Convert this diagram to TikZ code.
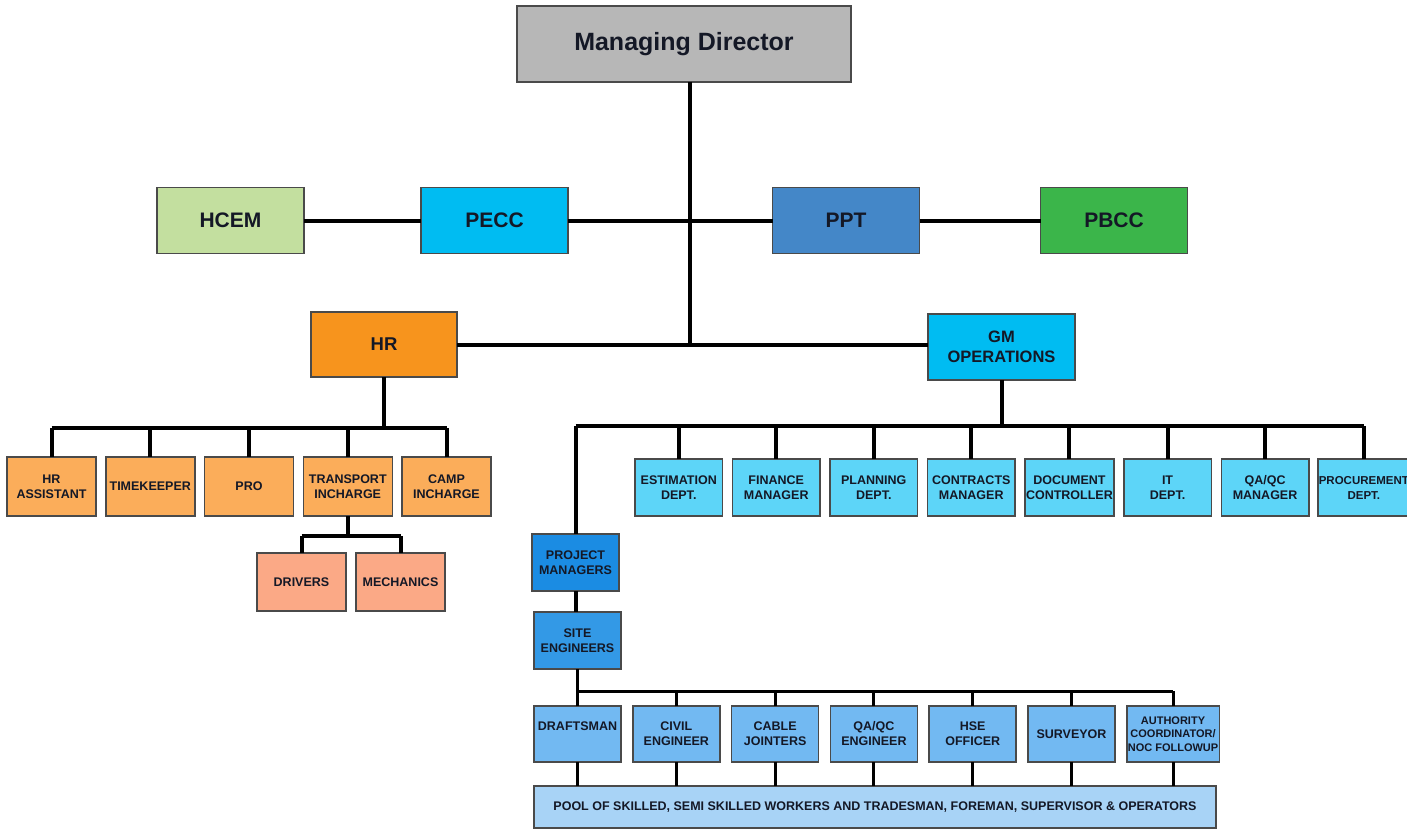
\documentclass[tikz,border=0pt]{standalone}
\usepackage{fontspec}
\setmainfont{Liberation Sans}
\usetikzlibrary{positioning}
\definecolor{mdgray}{HTML}{B7B7B7}
\definecolor{hcemgreen}{HTML}{C3DF9F}
\definecolor{cyanblue}{HTML}{00BCF2}
\definecolor{pptblue}{HTML}{4487C8}
\definecolor{pbccgreen}{HTML}{3BB54A}
\definecolor{hrorange}{HTML}{F7941D}
\definecolor{lightorange}{HTML}{FBAD5A}
\definecolor{salmon}{HTML}{FBA986}
\definecolor{lightcyan}{HTML}{5DD5F8}
\definecolor{pmblue}{HTML}{1B8CE3}
\definecolor{siteblue}{HTML}{3399E6}
\definecolor{staffblue}{HTML}{72B9F2}
\definecolor{poolblue}{HTML}{A8D3F6}
\definecolor{boxline}{HTML}{4A4A4A}
\definecolor{textdark}{HTML}{141826}
\tikzset{
  unit/.style={
    draw=boxline,
    rectangle,
    line width=1.5pt,
    outer sep=0pt,
    inner sep=1pt,
    align=center,
    text=textdark,
    minimum width=88pt,
    minimum height=57pt,
    font=\bfseries\fontsize{12.5}{15}\selectfont,
  },
  head/.style={
    unit,
    minimum width=147pt,
    minimum height=66pt,
    font=\bfseries\fontsize{21}{25}\selectfont,
  },
  hrstaff/.style={unit, fill=lightorange, minimum width=89pt, minimum height=59pt},
  fleet/.style={unit, fill=salmon, minimum width=89pt, minimum height=58pt},
  dept/.style={unit, fill=lightcyan, minimum width=87.5pt},
  sitestaff/.style={unit, fill=staffblue, minimum width=87pt, minimum height=56pt},
  link/.style={
    draw,
    black,
    line width=4pt,
  },
  thinlink/.style={
    draw,
    black,
    line width=3pt,
  },
}
\begin{document}
\begin{tikzpicture}[x=1pt,y=-1pt]
  \useasboundingbox [fill=white] (0,0) rectangle (1407,829);

  % top of the tree
  \node (md) [head, fill=mdgray, minimum width=334pt, minimum height=76pt,
    font=\bfseries\fontsize{25}{30}\selectfont] at (684,44) {Managing Director};
  \node (hcem) [head, fill=hcemgreen]  at (230.5,220.5) {HCEM};
  \node (pecc) [head, fill=cyanblue]   at (494.5,220.5) {PECC};
  \node (ppt)  [head, fill=pptblue]    at (846,220.5)   {PPT};
  \node (pbcc) [head, fill=pbccgreen]  at (1114,220.5)  {PBCC};
  \node (hr)   [head, fill=hrorange, minimum width=146pt, minimum height=65pt,
    font=\bfseries\fontsize{18.5}{22}\selectfont] at (384,344.5) {HR};
  \node (gm)   [head, fill=cyanblue,
    font=\bfseries\fontsize{16.5}{20}\selectfont] at (1001.5,347) {GM\\OPERATIONS};

  \coordinate (trunk) at (690,345);
  \path [link] (md.south -| trunk) -- (trunk);
  \path [link] (hcem) -- (pecc);
  \path [link] (pecc) -- (ppt);
  \path [link] (ppt) -- (pbcc);
  \path [link] (hr.east) -- (gm.west |- hr.east);

  % HR side
  \node (hrasst) [hrstaff] at (51.5,486.5)               {HR\\ASSISTANT};
  \node (keeper) [hrstaff, right=9.75pt of hrasst]      {TIMEKEEPER};
  \node (pro)    [hrstaff, right=9.75pt of keeper]      {PRO};
  \node (trans)  [hrstaff, right=9.75pt of pro]         {TRANSPORT\\INCHARGE};
  \node (camp)   [hrstaff, right=9.75pt of trans]       {CAMP\\INCHARGE};

  \coordinate (hrbus) at (0,428);
  \path [link] (hr.south) -- (hr.south |- hrbus);
  \path [link] (hrasst.north |- hrbus) -- (camp.north |- hrbus);
  \foreach \n in {hrasst,keeper,pro,trans,camp}
    \path [link] (\n.north) -- (\n.north |- hrbus);

  \node (drivers)   [fleet] at (301.5,582)          {DRIVERS};
  \node (mechanics) [fleet, right=10pt of drivers] {MECHANICS};

  \coordinate (fleetbus) at (0,536);
  \path [link] (trans.south) -- (trans.south |- fleetbus);
  \path [link] (drivers.north |- fleetbus) -- (mechanics.north |- fleetbus);
  \foreach \n in {drivers,mechanics}
    \path [link] (\n.north) -- (\n.north |- fleetbus);

  % operations side
  \node (pm)   [unit, fill=pmblue, minimum width=87pt] at (575.5,562.5) {PROJECT\\MANAGERS};
  \node (site) [unit, fill=siteblue, minimum width=87pt] at (577.5,640.5) {SITE\\ENGINEERS};

  \node (estim)    [dept] at (678.75,487.5)         {ESTIMATION\\DEPT.};
  \node (finance)  [dept, right=10pt of estim]     {FINANCE\\MANAGER};
  \node (planning) [dept, right=10pt of finance]   {PLANNING\\DEPT.};
  \node (contract) [dept, right=10pt of planning]  {CONTRACTS\\MANAGER};
  \node (document) [dept, right=10pt of contract]  {DOCUMENT\\CONTROLLER};
  \node (itdept)   [dept, right=10pt of document]  {IT\\DEPT.};
  \node (qaqcmgr)  [dept, right=10pt of itdept]    {QA/QC\\MANAGER};
  \node (procure)  [dept, right=9pt of qaqcmgr, minimum width=87pt,
    font=\bfseries\fontsize{11.5}{15}\selectfont]  {PROCUREMENT\\DEPT.};

  \coordinate (gmbus) at (0,426);
  \path [link] (gm.south) -- (gm.south |- gmbus);
  \path [link] (pm.north |- gmbus) -- (procure.north |- gmbus);
  \foreach \n in {pm,estim,finance,planning,contract,document,itdept,qaqcmgr,procure}
    \path [link] (\n.north) -- (\n.north |- gmbus);
  \path [link] (pm.south) -- (pm.south |- site.north);

  % site staff
  \node (draft)  [sitestaff] at (577.5,734)           {DRAFTSMAN\\~};
  \node (civil)  [sitestaff, right=11.8pt of draft]   {CIVIL\\ENGINEER};
  \node (cable)  [sitestaff, right=11.8pt of civil]   {CABLE\\JOINTERS};
  \node (qaqceng)[sitestaff, right=11.8pt of cable]   {QA/QC\\ENGINEER};
  \node (hse)    [sitestaff, right=11.8pt of qaqceng] {HSE\\OFFICER};
  \node (survey) [sitestaff, right=11.8pt of hse]     {SURVEYOR};
  \node (auth)   [sitestaff, right=11.8pt of survey,
    font=\bfseries\fontsize{11}{13.5}\selectfont]     {AUTHORITY\\COORDINATOR/\\NOC FOLLOWUP};

  \node (pool) [unit, fill=poolblue, minimum width=682pt, minimum height=42pt,
    anchor=north west] at (534,786)
    {POOL OF SKILLED, SEMI SKILLED WORKERS AND TRADESMAN, FOREMAN, SUPERVISOR \& OPERATORS};

  \coordinate (sitebus) at (0,691);
  \path [thinlink] (site.south) -- (site.south |- sitebus);
  \path [thinlink] (draft.north |- sitebus) -- (auth.north |- sitebus);
  \foreach \n in {draft,civil,cable,qaqceng,hse,survey,auth} {
    \path [thinlink] (\n.north) -- (\n.north |- sitebus);
    \path [thinlink] (\n.south) -- (\n.south |- pool.north);
  }
\end{tikzpicture}
\end{document}
